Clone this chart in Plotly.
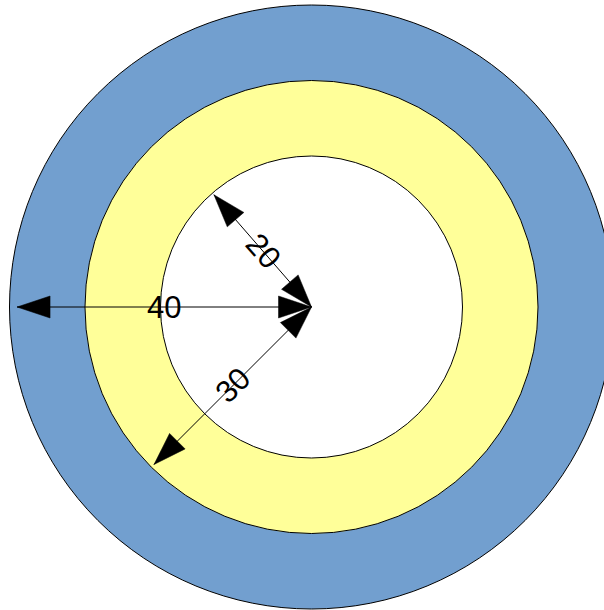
import numpy as np
import plotly.graph_objects as go

# Data
ring_radii = [40, 30, 20]                 # outer -> inner
ring_colors = ["#729fcf", "#ffff99", "#ffffff"]
arrow_labels = ["20", "30", "40"]
arrow_angles_deg = [131, 225, 180]        # direction from centre
arrow_lengths = [19.7, 29.5, 39.0]        # drawn length of each arrow
label_angles = [49, -45, 0]               # text rotation (clockwise, deg)

# Geometry / style
PX = 7.55                                  # pixels per data unit
W, H = 604, 610
cx_px, cy_px = 311.5, 307.0
head_len = 33 / PX
head_half = 11 / PX

fig = go.Figure()

shapes = []
for r, c in zip(ring_radii, ring_colors):
    shapes.append(dict(type="circle", xref="x", yref="y",
                       x0=-r, y0=-r, x1=r, y1=r,
                       fillcolor=c, line=dict(color="black", width=1),
                       layer="below"))

def head(tip, d):
    base = tip - head_len * d
    n = np.array([-d[1], d[0]])
    pts = [tip, base + head_half * n, base - head_half * n, tip]
    return [p[0] for p in pts], [p[1] for p in pts]

annotations = []
for lab, ang, L, ta in zip(arrow_labels, arrow_angles_deg, arrow_lengths, label_angles):
    a = np.deg2rad(ang)
    d = np.array([np.cos(a), np.sin(a)])
    tip_out = L * d
    tip_in = np.array([0.0, 0.0])
    # shaft
    fig.add_trace(go.Scatter(x=[tip_in[0], tip_out[0]], y=[tip_in[1], tip_out[1]],
                             mode="lines", line=dict(color="black", width=1),
                             hoverinfo="skip"))
    # heads
    for tip, dd in ((tip_out, d), (tip_in, -d)):
        hx, hy = head(tip, dd)
        fig.add_trace(go.Scatter(x=hx, y=hy, mode="lines", fill="toself",
                                 fillcolor="black", line=dict(color="black", width=0.5),
                                 hoverinfo="skip"))
    mid = (L / 2) * d
    annotations.append(dict(x=mid[0], y=mid[1], xref="x", yref="y", text=lab,
                            showarrow=False, textangle=ta,
                            font=dict(family="Liberation Sans", size=31, color="black")))

x0 = -cx_px / PX
x1 = (W - cx_px) / PX
y1 = cy_px / PX
y0 = -(H - cy_px) / PX

fig.update_layout(
    width=W, height=H,
    margin=dict(l=0, r=0, t=0, b=0),
    paper_bgcolor="white", plot_bgcolor="white",
    showlegend=False,
    shapes=shapes,
    annotations=annotations,
    xaxis=dict(range=[x0, x1], visible=False, showgrid=False, zeroline=False, fixedrange=True),
    yaxis=dict(range=[y0, y1], visible=False, showgrid=False, zeroline=False, fixedrange=True),
)

fig.write_html("out.html", config={"displayModeBar": False},
               post_script="document.body.style.margin='0';document.body.style.overflow='hidden';")
